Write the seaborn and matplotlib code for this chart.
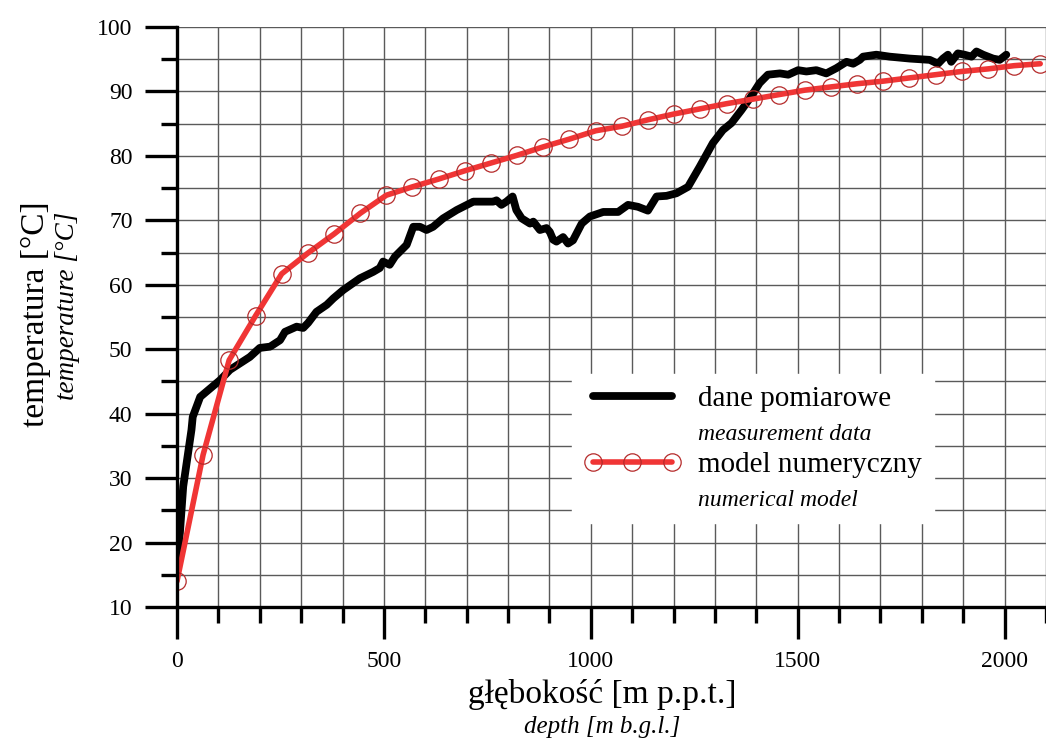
import matplotlib
matplotlib.use("Agg")
import matplotlib.pyplot as plt
import matplotlib.ticker as mticker
from matplotlib.lines import Line2D
import seaborn as sns
import pandas as pd

# ---- data ----
meas_depth = [0, 7, 15, 35, 38, 56, 104, 128, 176, 200, 225, 249, 261, 289, 305, 317, 337, 362,
              378, 402, 442, 474, 490, 498, 514, 527, 555, 571, 587, 603, 619, 643, 676, 716,
              764, 772, 784, 796, 811, 820, 833, 853, 861, 877, 893, 901, 909, 917, 933, 945,
              957, 978, 998, 1030, 1066, 1090, 1114, 1138, 1159, 1183, 1207, 1235, 1263, 1295,
              1319, 1340, 1364, 1384, 1408, 1428, 1457, 1477, 1501, 1521, 1545, 1569, 1593,
              1618, 1634, 1650, 1658, 1690, 1722, 1771, 1819, 1839, 1851, 1863, 1871, 1887,
              1903, 1920, 1932, 1948, 1972, 1988, 2004]
meas_temp = [16.8, 21.5, 28.7, 37.5, 39.5, 42.6, 45.2, 46.8, 48.8, 50.2, 50.4, 51.4, 52.7, 53.5,
             53.3, 54.1, 55.8, 56.9, 57.9, 59.2, 61.0, 62.0, 62.6, 63.6, 63.1, 64.4, 66.2, 69.0,
             69.0, 68.5, 69.0, 70.3, 71.6, 72.9, 72.9, 73.1, 72.4, 72.9, 73.7, 71.6, 70.3, 69.5,
             69.8, 68.5, 68.8, 68.2, 67.0, 66.7, 67.4, 66.4, 66.9, 69.5, 70.6, 71.3, 71.3, 72.4,
             72.1, 71.5, 73.7, 73.8, 74.2, 75.2, 78.3, 82.0, 84.0, 85.1, 87.1, 88.9, 91.3, 92.6,
             92.8, 92.6, 93.3, 93.1, 93.3, 92.8, 93.6, 94.6, 94.3, 94.9, 95.4, 95.7, 95.4, 95.1,
             94.9, 94.3, 95.1, 95.7, 94.6, 95.9, 95.7, 95.4, 96.2, 95.7, 95.1, 94.9, 95.7]

model_depth = [0, 63, 126, 190, 253, 316, 380, 443, 506, 569, 632, 696, 759, 822, 885, 948,
               1012, 1075, 1138, 1201, 1264, 1328, 1391, 1454, 1517, 1580, 1644, 1707, 1770,
               1833, 1896, 1960, 2023, 2086]
model_temp = [14.0, 33.6, 48.3, 55.2, 61.7, 64.9, 67.9, 71.1, 73.9, 75.2, 76.4, 77.7, 78.9,
              80.1, 81.4, 82.6, 83.9, 84.6, 85.6, 86.5, 87.3, 88.1, 88.8, 89.5, 90.2, 90.7,
              91.2, 91.6, 92.1, 92.6, 93.1, 93.5, 94.0, 94.3]

x_ticks = [0, 500, 1000, 1500, 2000]
y_ticks = [10, 20, 30, 40, 50, 60, 70, 80, 90, 100]

labels_main = ["dane pomiarowe", "model numeryczny"]
labels_sub = ["measurement data", "numerical model"]
xlabel_main, xlabel_sub = "głębokość [m p.p.t.]", "depth [m b.g.l.]"
ylabel_main, ylabel_sub = "temperatura [°C]", "temperature [°C]"

# ---- style ----
sns.set_style("white")
plt.rcParams["font.family"] = ["Liberation Serif", "DejaVu Serif"]
plt.rcParams["text.color"] = "black"
plt.rcParams["xtick.color"] = "black"
plt.rcParams["ytick.color"] = "black"

W, H = 1046, 742
fig = plt.figure(figsize=(W / 100, H / 100), dpi=100)
ax = fig.add_axes([177 / W, 1 - 607 / H, (W - 177) / W, (607 - 27) / H])

meas = pd.DataFrame({"depth": meas_depth, "temp": meas_temp})
model = pd.DataFrame({"depth": model_depth, "temp": model_temp})

red = "#f03535"
dark_red = "#b52a2a"
black_lw = 5.6
red_lw = 4.0
msize = 12.5
sns.lineplot(data=meas, x="depth", y="temp", ax=ax, color="black", linewidth=black_lw,
             estimator=None, sort=False, zorder=3, solid_joinstyle="round")
sns.lineplot(data=model, x="depth", y="temp", ax=ax, color=red, linewidth=red_lw,
             estimator=None, sort=False, marker="o", markersize=msize,
             markerfacecolor="none", markeredgecolor=dark_red, markeredgewidth=0.9,
             zorder=4)

ax.set_xlim(0, 2100)
ax.set_ylim(10, 100)
ax.set_xticks(x_ticks)
ax.set_yticks(y_ticks)
ax.xaxis.set_minor_locator(mticker.MultipleLocator(100))
ax.yaxis.set_minor_locator(mticker.MultipleLocator(5))
ax.grid(True, which="both", color="#5a5a5a", lw=1.0)
ax.set_axisbelow(True)

for s in ["top", "right"]:
    ax.spines[s].set_visible(False)
for s in ["left", "bottom"]:
    ax.spines[s].set_color("black")
    ax.spines[s].set_linewidth(2.4)
    ax.spines[s].set_zorder(5)

ax.tick_params(axis="both", which="major", direction="out", length=23, width=2.4,
               color="black", labelcolor="black", labelsize=17, pad=9, bottom=True, left=True)
ax.tick_params(axis="both", which="minor", direction="out", length=11.5, width=2.4,
               color="black", bottom=True, left=True)
ax.set_xlabel("")
ax.set_ylabel("")

fig.text(602 / W, 1 - 695 / H, xlabel_main, fontsize=24, ha="center", va="center")
fig.text(602 / W, 1 - 727 / H, xlabel_sub, fontsize=18, style="italic", ha="center", va="center")
fig.text(36 / W, 1 - 314 / H, ylabel_main, fontsize=24, rotation=90, ha="center", va="center")
fig.text(68 / W, 1 - 306 / H, ylabel_sub, fontsize=19.5, style="italic", rotation=90,
         ha="center", va="center")

# ---- legend ----
h_meas = Line2D([], [], color="black", lw=black_lw, solid_capstyle="round")
h_model = Line2D([], [], color=red, lw=red_lw, marker="o", markersize=msize,
                 markerfacecolor="none", markeredgecolor=dark_red, markeredgewidth=0.9)
h_blank = Line2D([], [], color="none")
leg = ax.legend([h_meas, h_blank, h_model, h_blank],
                [labels_main[0], labels_sub[0], labels_main[1], labels_sub[1]],
                loc="lower left", bbox_to_anchor=((572 - 177) / (W - 177), (607 - 523) / 580),
                borderaxespad=0, fontsize=21, frameon=True, fancybox=False, framealpha=1,
                edgecolor="white", facecolor="white", handlelength=3.3, handletextpad=0.6,
                labelspacing=0.24, borderpad=0.42, numpoints=3)
leg.set_zorder(10)
for i, t in enumerate(leg.get_texts()):
    if i % 2 == 1:
        t.set_fontsize(17)
        t.set_fontstyle("italic")

fig.savefig("out.png", dpi=100)
